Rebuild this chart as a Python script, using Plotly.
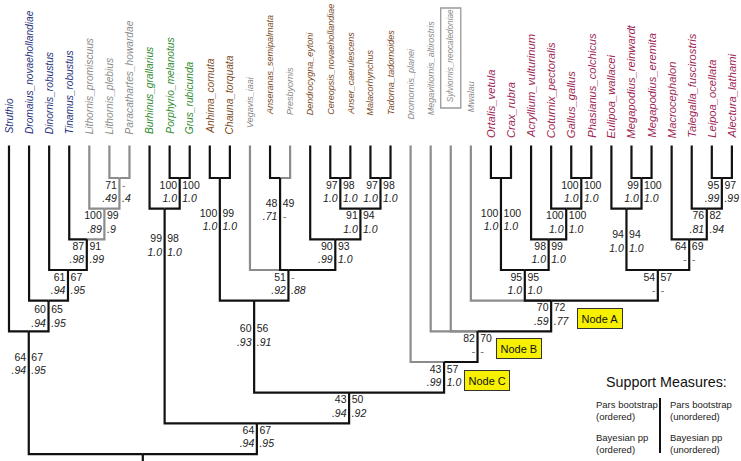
import plotly.graph_objects as go

# ---------------- data ----------------
TAXA = ["Struthio", "Dromaius_novaehollandiae", "Dinornis_robustus", "Tinamus_robustus",
        "Lithornis_promiscuus", "Lithornis_plebius", "Paracathartes_howardae",
        "Burhinus_grallarius", "Porphyrio_melanotus", "Grus_rubicunda",
        "Anhima_cornuta", "Chauna_torquata", "Vegavis_iaai", "Anseranas_semipalmata",
        "Presbyornis", "Dendrocygna_eytoni", "Cereopsis_novaehollandiae",
        "Anser_caerulescens", "Malacorhynchus", "Tadorna_tadornoides",
        "Dromornis_planei", "Megavitiornis_altirostris", "Sylviornis_neocaledoniae",
        "Mwalau", "Ortalis_vetula", "Crax_rubra", "Acryllium_vulturinum",
        "Coturnix_pectoralis", "Gallus_gallus", "Phasianus_colchicus",
        "Eulipoa_wallacei", "Megapodius_reinwardt", "Megapodius_eremita",
        "Macrocephalon", "Talegalla_fuscirostris", "Leipoa_ocellata", "Alectura_lathami"]

TAXON_GROUP = (["palaeognath"] * 4 + ["fossil"] * 3 + ["neoaves"] * 3 + ["anseriform"] * 2 +
               ["fossil", "anseriform", "fossil"] + ["anseriform"] * 5 + ["fossil"] * 4 +
               ["galliform"] * 13)

NODE_IDS = ["lith1", "lith2", "tin", "din", "dro", "pal", "pg", "neoaves", "anh", "anspre",
            "cer", "mal", "anser", "anatidae", "anatoidea", "anseriformes", "crac", "gp",
            "cot", "phas", "cp", "mm", "eul", "la", "tal", "mac", "mega", "A", "B", "C",
            "gallo", "neog", "root"]
NODE_CHILDREN = [
    ("Lithornis_plebius", "Paracathartes_howardae"),
    ("Lithornis_promiscuus", "lith1"),
    ("Tinamus_robustus", "lith2"),
    ("Dinornis_robustus", "tin"),
    ("Dromaius_novaehollandiae", "din"),
    ("Struthio", "dro"),
    ("Porphyrio_melanotus", "Grus_rubicunda"),
    ("Burhinus_grallarius", "pg"),
    ("Anhima_cornuta", "Chauna_torquata"),
    ("Anseranas_semipalmata", "Presbyornis"),
    ("Cereopsis_novaehollandiae", "Anser_caerulescens"),
    ("Malacorhynchus", "Tadorna_tadornoides"),
    ("cer", "mal"),
    ("Dendrocygna_eytoni", "anser"),
    ("Vegavis_iaai", "anspre", "anatidae"),
    ("anh", "anatoidea"),
    ("Ortalis_vetula", "Crax_rubra"),
    ("Gallus_gallus", "Phasianus_colchicus"),
    ("Coturnix_pectoralis", "gp"),
    ("Acryllium_vulturinum", "cot"),
    ("crac", "phas"),
    ("Megapodius_reinwardt", "Megapodius_eremita"),
    ("Eulipoa_wallacei", "mm"),
    ("Leipoa_ocellata", "Alectura_lathami"),
    ("Talegalla_fuscirostris", "la"),
    ("Macrocephalon", "tal"),
    ("eul", "mac"),
    ("Mwalau", "cp", "mega"),
    ("Megavitiornis_altirostris", "Sylviornis_neocaledoniae", "A"),
    ("Dromornis_planei", "B"),
    ("anseriformes", "C"),
    ("neoaves", "gallo"),
    ("pal", "neog"),
]
PARS_ORD = ["71", "100", "87", "61", "60", "64", "100", "99", "100", "48", "97", "97", "91",
            "90", "51", "60", "100", "100", "100", "98", "95", "99", "94", "95", "76", "64",
            "54", "70", "82", "43", "43", "64", ""]
PARS_UNORD = ["-", "99", "91", "67", "65", "67", "100", "98", "99", "49", "98", "98", "94",
              "93", "-", "56", "100", "100", "100", "99", "95", "100", "94", "97", "82", "69",
              "57", "72", "70", "57", "50", "67", ""]
BAYES_ORD = [".49", ".89", ".98", ".94", ".94", ".94", "1.0", "1.0", "1.0", ".71", "1.0",
             "1.0", "1.0", ".99", ".92", ".93", "1.0", "1.0", "1.0", "1.0", "1.0", "1.0",
             "1.0", ".99", ".81", "-", "-", ".59", "-", ".99", ".94", ".94", ""]
BAYES_UNORD = [".4", ".9", ".99", ".95", ".95", ".95", "1.0", "1.0", "1.0", "-", "1.0",
               "1.0", "1.0", "1.0", ".88", ".91", "1.0", "1.0", "1.0", "1.0", "1.0", "1.0",
               "1.0", ".99", ".94", "-", "-", ".77", "-", "1.0", ".92", ".95", ""]
NODE_TAGS = {"A": "Node A", "B": "Node B", "C": "Node C"}

LEGEND_TITLE = "Support Measures:"
LEGEND_LEFT = ["Pars bootstrap<br>(ordered)", "Bayesian pp<br>(ordered)"]
LEGEND_RIGHT = ["Pars bootstrap<br>(unordered)", "Bayesian pp<br>(unordered)"]

# ---------------- layout / style ----------------
W, H = 741, 461
X0, DX = 9.0, 20.08          # px of first taxon, px per taxon
Y0, DY = 147.33, 30.67       # px of tip level, px per node level
TIP_TOP = -0.06              # level where terminal branches start
# bottom (start) of each rotated tip label and its font size, px
LABEL_BOTTOM_PX = [136] * 12 + [130] + [117] * 7 + [122, 117, 104, 114] + [140] * 13
LABEL_SIZE = [10.2] * 12 + [9.0] * 10 + [8.2, 9.0] + [11.2] * 13
ROW1_PX, ROW2_PX = 8, 21.5
LABEL_DROP_PX = {"pal": 19, "neoaves": 23, "anh": 28, "anspre": 18, "crac": 28,
                 "eul": 19, "anseriformes": 21, "dro": 2}
TAG_SHIFT_PX = {"A": (26, 18), "B": (18, 17), "C": (20, 18)}
GAP = 2.6 / DX

GROUP_COLOR = {"palaeognath": "#24307c", "fossil": "#8a8a8a", "neoaves": "#2e8a2e",
               "anseriform": "#7a4a1c", "galliform": "#9e1f55"}
BLACK, GRAY = "#111111", "#8c8c8c"
FONT = "Liberation Sans, Arial, sans-serif"


def lv(px):
    return (px - Y0) / DY


# ---------------- tree geometry ----------------
children = dict(zip(NODE_IDS, NODE_CHILDREN))
xpos, level, fossil = {}, {}, {}
for i, t in enumerate(TAXA):
    xpos[t] = float(i)
    level[t] = 0
    fossil[t] = TAXON_GROUP[i] == "fossil"


def resolve(n):
    if n in xpos:
        return
    for c in children[n]:
        resolve(c)
    cs = children[n]
    xpos[n] = sum(xpos[c] for c in cs) / len(cs)
    level[n] = max(level[c] for c in cs) + 1
    fossil[n] = all(fossil[c] for c in cs)


for n in NODE_IDS:
    resolve(n)

seg = {True: ([], []), False: ([], [])}
for n in NODE_IDS:
    for c in children[n]:
        xs, ys = seg[fossil[c]]
        ytop = TIP_TOP if c in TAXA else level[c]
        xs += [xpos[c], xpos[c], xpos[n], None]
        ys += [ytop, level[n], level[n], None]
# root stem
xs, ys = seg[False]
xs += [xpos["root"], xpos["root"], None]
ys += [level["root"], lv(H + 5), None]

fig = go.Figure()
for fos in (True, False):
    xs, ys = seg[fos]
    fig.add_trace(go.Scatter(x=xs, y=ys, mode="lines", hoverinfo="skip",
                             line=dict(color=GRAY if fos else BLACK, width=2.2),
                             showlegend=False))

# support values
for vals, side, row, italic in [(PARS_ORD, -1, ROW1_PX, False), (PARS_UNORD, 1, ROW1_PX, False),
                                (BAYES_ORD, -1, ROW2_PX, True), (BAYES_UNORD, 1, ROW2_PX, True)]:
    tx, ty, tt, tc = [], [], [], []
    for n, v in zip(NODE_IDS, vals):
        if not v:
            continue
        tx.append(xpos[n] + side * GAP)
        ty.append(level[n] + (row + LABEL_DROP_PX.get(n, 0)) / DY)
        tt.append(v)
        tc.append("#777777" if v == "-" else "#222222")
    fig.add_trace(go.Scatter(
        x=tx, y=ty, text=tt, mode="text", hoverinfo="skip", showlegend=False,
        textposition="middle left" if side < 0 else "middle right",
        textfont=dict(family=FONT, size=10.5, color=tc,
                      style="italic" if italic else "normal")))

# tip labels
for i, t in enumerate(TAXA):
    fig.add_annotation(x=xpos[t], y=lv(LABEL_BOTTOM_PX[i]), xref="x", yref="y",
                       text=t, textangle=-90, showarrow=False,
                       xanchor="center", yanchor="bottom",
                       font=dict(family=FONT, size=LABEL_SIZE[i], style="italic",
                                 color=GROUP_COLOR[TAXON_GROUP[i]]))

# Sylviornis box
si = TAXA.index("Sylviornis_neocaledoniae")
fig.add_shape(type="rect", xref="x", yref="y", x0=si - 0.5, x1=si + 0.5,
              y0=lv(8), y1=lv(108), line=dict(color="#999999", width=1.3))

# node tags
for n, tag in NODE_TAGS.items():
    dx, dy = TAG_SHIFT_PX[n]
    fig.add_annotation(x=xpos[n], y=level[n], xref="x", yref="y", text=tag,
                       showarrow=False, xanchor="left", yanchor="middle",
                       xshift=dx, yshift=-dy, bgcolor="#f7f000", bordercolor="#333333",
                       borderwidth=1, borderpad=3.5,
                       font=dict(family=FONT, size=11, color="#111111"))

# legend block
fig.add_annotation(x=666 / W, y=1 - 382 / H, xref="paper", yref="paper", text=LEGEND_TITLE,
                   showarrow=False, xanchor="center", yanchor="middle",
                   font=dict(family=FONT, size=14.3, color="#111111"))
for k, (l, r) in enumerate(zip(LEGEND_LEFT, LEGEND_RIGHT)):
    yc = 1 - (410 + 33 * k) / H
    fig.add_annotation(x=594 / W, y=yc, xref="paper", yref="paper", text=l, showarrow=False,
                       xanchor="left", yanchor="middle", align="left",
                       font=dict(family=FONT, size=9.5, color="#222222"))
    fig.add_annotation(x=668 / W, y=yc, xref="paper", yref="paper", text=r, showarrow=False,
                       xanchor="left", yanchor="middle", align="left",
                       font=dict(family=FONT, size=9.5, color="#222222"))
fig.add_shape(type="line", xref="paper", yref="paper", x0=660 / W, x1=660 / W,
              y0=1 - 398 / H, y1=1 - 453 / H, line=dict(color="#111111", width=2))

fig.update_layout(
    width=W, height=H, margin=dict(l=0, r=0, t=0, b=0),
    paper_bgcolor="white", plot_bgcolor="white",
    xaxis=dict(range=[-X0 / DX, (W - X0) / DX], visible=False, fixedrange=True),
    yaxis=dict(range=[lv(H), lv(0)], visible=False, fixedrange=True),
)
fig.write_html("out.html", config={"displayModeBar": False},
               post_script="document.body.style.margin='0px';")
